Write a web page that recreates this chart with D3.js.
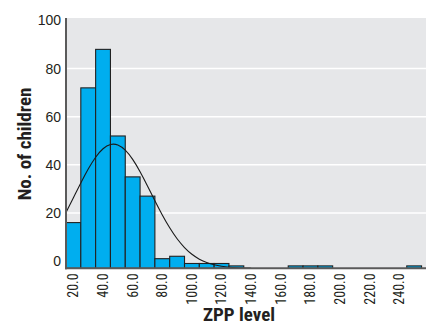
<!DOCTYPE html>
<html>
<head>
<meta charset="utf-8">
<script src="https://cdn.jsdelivr.net/npm/d3@7"></script>
<style>
  html, body { margin: 0; padding: 0; background: #ffffff; }
  svg { display: block; }
  text { font-family: "Liberation Sans Narrow", "Arial Narrow", "Roboto Condensed", sans-serif; }
</style>
</head>
<body>
<svg id="chart" width="426" height="325"></svg>
<script>
// ---- data ----
const binCenters = [20, 30, 40, 50, 60, 70, 80, 90, 100, 110, 120, 130, 170, 180, 190, 250];
const binCounts  = [19, 75, 91, 55, 38, 30, 4, 5, 2, 2, 2, 1, 1, 1, 1, 1];
const binWidth = 10;

const curveX = [15, 20, 25, 30, 35, 40, 45, 50, 55, 60, 65, 70, 75, 80, 85, 90, 95, 100, 105, 110, 115, 120, 125, 130, 135, 140];
const curveY = [23.2, 29.3, 35.5, 41.4, 46.4, 50.0, 51.8, 51.6, 49.4, 45.5, 40.3, 34.3, 28.0, 22.1, 16.7, 12.1, 8.5, 5.7, 3.7, 2.3, 1.4, 0.8, 0.4, 0.2, 0.1, 0.05];

const xTickValues = [20, 40, 60, 80, 100, 120, 140, 160, 180, 200, 220, 240];
const yTickValues = [0, 20, 40, 60, 80, 100];
const xTitle = "ZPP level";
const yTitle = "No. of children";

// ---- layout ----
const plotLeft = 66, plotRight = 426, plotTop = 18, plotBottom = 268.3;

const svg = d3.select("#chart");

const x = d3.scaleLinear().domain([15, 258]).range([plotLeft, plotRight]);
const y = d3.scaleLinear().domain([0, 103]).range([plotBottom, 20.5]);
// the printed axis labels sit slightly above the data baseline
const yAxisScale = d3.scaleLinear().domain([-3, 100]).range([plotBottom, 20.5]);

// background
svg.append("rect")
  .attr("x", plotLeft).attr("y", plotTop)
  .attr("width", plotRight - plotLeft).attr("height", plotBottom - plotTop)
  .attr("fill", "#e6e7e9");

// gridlines
svg.append("g").selectAll("line")
  .data(yTickValues.filter(d => d > 0 && d < 100))
  .join("line")
  .attr("x1", plotLeft).attr("x2", plotRight)
  .attr("y1", d => yAxisScale(d)).attr("y2", d => yAxisScale(d))
  .attr("stroke", "#ffffff").attr("stroke-width", 1.5);

// bars
svg.append("g").selectAll("rect")
  .data(binCenters.map((c, i) => ({c, v: binCounts[i]})))
  .join("rect")
  .attr("x", d => x(d.c - binWidth / 2))
  .attr("width", d => x(d.c + binWidth / 2) - x(d.c - binWidth / 2))
  .attr("y", d => y(d.v))
  .attr("height", d => y(0) - y(d.v))
  .attr("fill", "#00aeef")
  .attr("stroke", "#222222")
  .attr("stroke-width", 1.1);

// normal curve
const line = d3.line().x((d, i) => x(curveX[i])).y(d => y(d)).curve(d3.curveBasis);
svg.append("path")
  .datum(curveY)
  .attr("d", line)
  .attr("fill", "none")
  .attr("stroke", "#1a1a1a")
  .attr("stroke-width", 1.1);

// axes lines
svg.append("line")
  .attr("x1", plotLeft).attr("x2", plotLeft)
  .attr("y1", plotTop).attr("y2", plotBottom + 1)
  .attr("stroke", "#5a5a5a").attr("stroke-width", 2);
svg.append("line")
  .attr("x1", plotLeft - 1).attr("x2", plotRight)
  .attr("y1", plotBottom).attr("y2", plotBottom)
  .attr("stroke", "#5a5a5a").attr("stroke-width", 2);

// y axis labels
const yAxis = d3.axisLeft(yAxisScale).tickValues(yTickValues).tickSize(0).tickPadding(5).tickFormat(d3.format("d"));
const gy = svg.append("g").attr("transform", `translate(${plotLeft},0)`).call(yAxis);
gy.select(".domain").remove();
gy.selectAll("text").attr("font-size", 14).attr("fill", "#231f20")
  .style("font-family", '"Liberation Sans Narrow", "Arial Narrow", sans-serif');

// x axis labels (rotated)
svg.append("g").selectAll("text")
  .data(xTickValues)
  .join("text")
  .attr("transform", d => `translate(${x(d)},${plotBottom + 5}) rotate(-90)`)
  .attr("text-anchor", "end")
  .attr("dy", "0.35em")
  .attr("font-size", 14)
  .attr("fill", "#231f20")
  .text(d => d3.format(".1f")(d));

// titles
svg.append("text")
  .attr("x", 239).attr("y", 321)
  .attr("text-anchor", "middle")
  .attr("font-size", 19).attr("font-weight", "bold")
  .attr("fill", "#231f20")
  .text(xTitle);

svg.append("text")
  .attr("transform", "translate(31,144) rotate(-90)")
  .attr("text-anchor", "middle")
  .attr("font-size", 19).attr("font-weight", "bold")
  .attr("fill", "#231f20")
  .text(yTitle);
</script>
</body>
</html>
